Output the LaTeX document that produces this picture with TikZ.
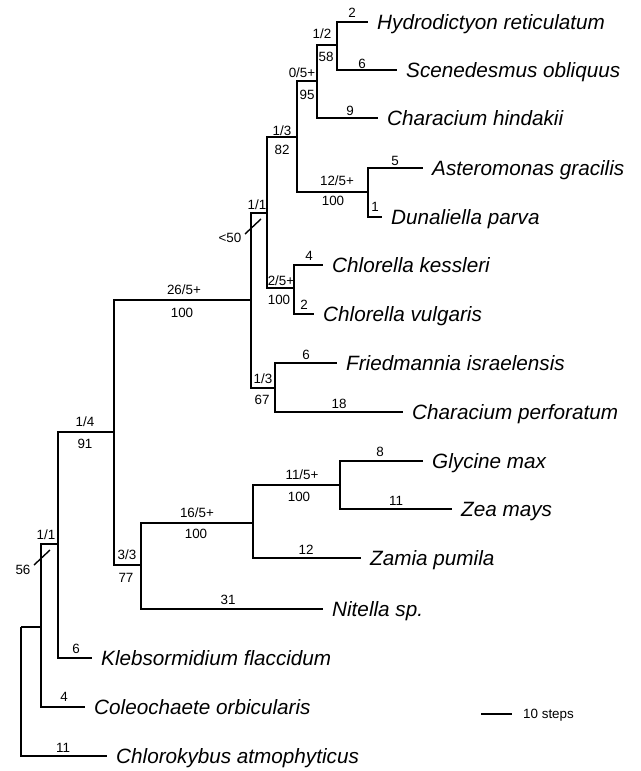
\documentclass[tikz,border=0pt]{standalone}
\usepackage{fontspec}
\setmainfont{Liberation Sans}
\begin{document}
\begin{tikzpicture}[x=1pt,y=-1pt,
  br/.style={line width=2pt, line join=miter},
  taxon/.style={anchor=base west, inner sep=0pt, xshift=9pt, yshift=-7pt, font=\fontsize{20.7}{22}\selectfont\itshape},
  lab/.style={anchor=base, inner sep=0pt, yshift=-4.7pt, font=\fontsize{13.4}{14}\selectfont},
  tickmark/.style={line width=1.4pt}]
\useasboundingbox (0,0) rectangle (640,771);
% internal nodes
\coordinate (root) at (21,627);
\coordinate (nA) at (41,627);
\coordinate (nB) at (58,544);
\coordinate (nC) at (114,432);
\coordinate (nD) at (251,300);
\coordinate (nF) at (267,213);
\coordinate (nH) at (297,137);
\coordinate (nJ) at (317,81);
\coordinate (nL) at (337,45);
\coordinate (nK) at (368,192);
\coordinate (nI) at (294,288);
\coordinate (nG) at (275,388);
\coordinate (nE) at (141,565);
\coordinate (nM) at (253,523);
\coordinate (nN) at (340,485);
% leaves
\coordinate (tHyd) at (368,22);
\coordinate (tSce) at (397,70);
\coordinate (tChh) at (378,118);
\coordinate (tAst) at (423,168);
\coordinate (tDun) at (382,217);
\coordinate (tCke) at (323,265);
\coordinate (tCvu) at (314,314);
\coordinate (tFri) at (337,363);
\coordinate (tCpe) at (403,412);
\coordinate (tGly) at (423,461);
\coordinate (tZea) at (452,509);
\coordinate (tZam) at (361,558);
\coordinate (tNit) at (323,609);
\coordinate (tKle) at (92,658);
\coordinate (tCol) at (85,707);
\coordinate (tChl) at (107,756);
% branches
\draw[br] (root) |- (nA);
\draw[br] (root) |- (tChl);
\draw[br] (nA) |- (nB);
\draw[br] (nA) |- (tCol);
\draw[br] (nB) |- (nC);
\draw[br] (nB) |- (tKle);
\draw[br] (nC) |- (nD);
\draw[br] (nC) |- (nE);
\draw[br] (nD) |- (nF);
\draw[br] (nD) |- (nG);
\draw[br] (nF) |- (nH);
\draw[br] (nF) |- (nI);
\draw[br] (nH) |- (nJ);
\draw[br] (nH) |- (nK);
\draw[br] (nJ) |- (nL);
\draw[br] (nJ) |- (tChh);
\draw[br] (nL) |- (tHyd);
\draw[br] (nL) |- (tSce);
\draw[br] (nK) |- (tAst);
\draw[br] (nK) |- (tDun);
\draw[br] (nI) |- (tCke);
\draw[br] (nI) |- (tCvu);
\draw[br] (nG) |- (tFri);
\draw[br] (nG) |- (tCpe);
\draw[br] (nE) |- (nM);
\draw[br] (nE) |- (tNit);
\draw[br] (nM) |- (nN);
\draw[br] (nM) |- (tZam);
\draw[br] (nN) |- (tGly);
\draw[br] (nN) |- (tZea);
% taxa
\node[taxon] (xHyd) at (tHyd) {Hydrodictyon reticulatum};
\node[taxon] (xSce) at (tSce) {Scenedesmus obliquus};
\node[taxon] (xChh) at (tChh) {Characium hindakii};
\node[taxon] (xAst) at (tAst) {Asteromonas gracilis};
\node[taxon] (xDun) at (tDun) {Dunaliella parva};
\node[taxon] (xCke) at (tCke) {Chlorella kessleri};
\node[taxon] (xCvu) at (tCvu) {Chlorella vulgaris};
\node[taxon] (xFri) at (tFri) {Friedmannia israelensis};
\node[taxon] (xCpe) at (tCpe) {Characium perforatum};
\node[taxon] (xGly) at (tGly) {Glycine max};
\node[taxon] (xZea) at (tZea) {Zea mays};
\node[taxon] (xZam) at (tZam) {Zamia pumila};
\node[taxon] (xNit) at (tNit) {Nitella sp.};
\node[taxon] (xKle) at (tKle) {Klebsormidium flaccidum};
\node[taxon] (xCol) at (tCol) {Coleochaete orbicularis};
\node[taxon] (xChl) at (tChl) {Chlorokybus atmophyticus};
% branch lengths
\node[lab] (lHyd) at (352,13) {2};
\node[lab] (lSce) at (362,64) {6};
\node[lab] (lChh) at (350,111) {9};
\node[lab] (lAst) at (395,161) {5};
\node[lab] (lDun) at (375,207) {1};
\node[lab] (lCke) at (309,256) {4};
\node[lab] (lCvu) at (304,305) {2};
\node[lab] (lFri) at (306,355) {6};
\node[lab] (lCpe) at (339,404) {18};
\node[lab] (lGly) at (380,452) {8};
\node[lab] (lZea) at (396,501) {11};
\node[lab] (lZam) at (306,550) {12};
\node[lab] (lNit) at (228,600) {31};
\node[lab] (lKle) at (76,649) {6};
\node[lab] (lCol) at (64,697) {4};
\node[lab] (lChl) at (63,748) {11};
% support values
\node[lab] (aL) at (322,34) {1/2};
\node[lab] (bL) at (326,57) {58};
\node[lab] (aJ) at (302,73) {0/5+};
\node[lab] (bJ) at (307,95) {95};
\node[lab] (aH) at (282,131) {1/3};
\node[lab] (bH) at (282,150) {82};
\node[lab] (aK) at (337,181) {12/5+};
\node[lab] (bK) at (333,201) {100};
\node[lab] (aF) at (257,205) {1/1};
\node[lab] (bF) at (230,238) {<50};
\node[lab] (aI) at (281,281) {2/5+};
\node[lab] (bI) at (279,300) {100};
\node[lab] (aG) at (263,379) {1/3};
\node[lab] (bG) at (262,400) {67};
\node[lab] (aD) at (184,290) {26/5+};
\node[lab] (bD) at (182,313) {100};
\node[lab] (aC) at (85,422) {1/4};
\node[lab] (bC) at (85,444) {91};
\node[lab] (aN) at (302,475) {11/5+};
\node[lab] (bN) at (299,497) {100};
\node[lab] (aM) at (197,513) {16/5+};
\node[lab] (bM) at (196,534) {100};
\node[lab] (aE) at (127,555) {3/3};
\node[lab] (bE) at (126,578) {77};
\node[lab] (aB) at (46,535) {1/1};
\node[lab] (bB) at (23,570) {56};
% slash marks
\coordinate (sF1) at (245,234);
\coordinate (sF2) at (261,219);
\draw[tickmark] (sF1) -- (sF2);
\coordinate (sB1) at (34,565);
\coordinate (sB2) at (50,550);
\draw[tickmark] (sB1) -- (sB2);
% scale bar
\coordinate (sb1) at (481,714);
\coordinate (sb2) at (512,714);
\draw[br] (sb1) -- (sb2);
\node[lab, anchor=base west] (sbl) at (523,714) {10 steps};
\end{tikzpicture}
\end{document}
